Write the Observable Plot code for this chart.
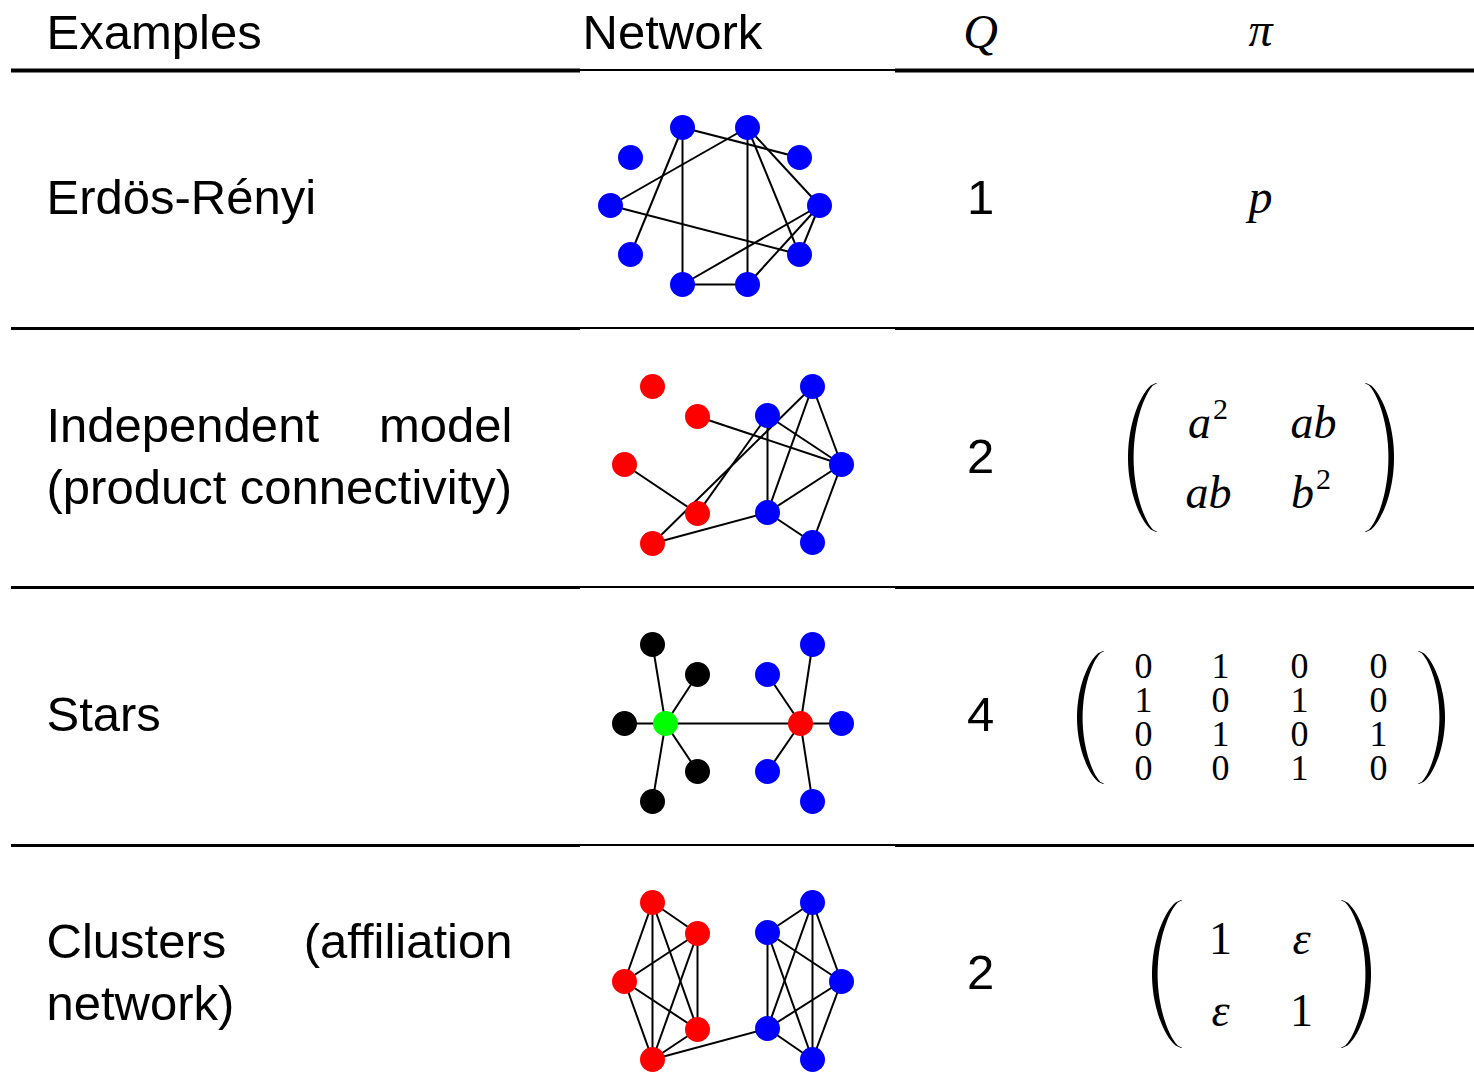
<!DOCTYPE html>
<html>
<head>
<meta charset="utf-8">
<script src="https://cdn.jsdelivr.net/npm/d3@7"></script>
<script src="https://cdn.jsdelivr.net/npm/@observablehq/plot@0.6"></script>
<style>
  html, body { margin: 0; padding: 0; background: #fff; }
  #chart svg { display: block; }
</style>
</head>
<body>
<div id="chart"></div>
<script>
// ---------- Data ----------
const headers = ["Examples", "Network", "Q", "π"];
const exampleLines = [
  ["Erdös-Rényi"],
  ["Independent|model", "(product connectivity)"],
  ["Stars"],
  ["Clusters|(affiliation", "network)"]
];
const qValues = ["1", "2", "4", "2"];
const piScalar = "p";
const piMatrix2 = [["a", "ab"], ["ab", "b"]];
const piMatrix2Sup = [["2", ""], ["", "2"]];
const piMatrix4 = [["0","1","0","0"], ["1","0","1","0"], ["0","1","0","1"], ["0","0","1","0"]];
const piMatrixEps = [["1", "ε"], ["ε", "1"]];

// Networks: node positions, colours, edges
const erNodes = [[682,127],[747,127],[630,157],[799,157],[610,205],[819,205],[630,254],[799,254],[682,284],[747,284]];
const erColors = ["blue","blue","blue","blue","blue","blue","blue","blue","blue","blue"];
const erEdges = [[0,3],[0,6],[0,8],[1,4],[1,9],[1,5],[1,7],[4,7],[5,8],[5,7],[5,9],[8,9]];

const indNodes = [[652,386],[697,416],[624,464],[697,513],[652,543],[812,386],[767,415],[841,464],[767,512],[812,542]];
const indColors = ["red","red","red","red","red","blue","blue","blue","blue","blue"];
const indEdges = [[1,7],[2,3],[4,5],[3,6],[4,8],[6,8],[6,7],[5,8],[5,7],[7,8],[7,9],[8,9]];

const starNodes = [[652,644],[697,674],[624,723],[665,723],[697,771],[652,801],[812,644],[767,674],[800,723],[841,723],[767,771],[812,801]];
const starColors = ["black","black","black","lime","black","black","blue","blue","red","blue","blue","blue"];
const starEdges = [[3,0],[3,1],[3,2],[3,4],[3,5],[3,8],[8,6],[8,7],[8,9],[8,10],[8,11]];

const clNodes = [[652,902],[697,933],[624,981],[697,1029],[652,1059],[812,902],[767,932],[841,981],[767,1028],[812,1059]];
const clColors = ["red","red","red","red","red","blue","blue","blue","blue","blue"];
const clEdges = [[0,1],[0,2],[0,3],[0,4],[1,2],[1,3],[1,4],[2,3],[2,4],[3,4],
                 [5,6],[5,7],[5,8],[5,9],[6,7],[6,8],[6,9],[7,8],[7,9],[8,9],[4,8]];

// ---------- Layout ----------
const W = 1474, H = 1073;
const colX = {examples: 46, examplesRight: 512, network: 582, q: 980, pi: 1260};
const headerY = 33;
const rowY = [198, 457, 715, 973];
const lineGap = 62;
const separatorsY = [70, 328, 587, 845];
const sans = "Liberation Sans, Arial, Helvetica, sans-serif";
const serif = "Liberation Serif, Times New Roman, serif";
const sansSize = 49;

// ---------- Build tables ----------
const colors = {blue: "#0000ff", red: "#ff0000", lime: "#00ff00", black: "#000000"};
const networks = [
  {nodes: erNodes, colors: erColors, edges: erEdges},
  {nodes: indNodes, colors: indColors, edges: indEdges},
  {nodes: starNodes, colors: starColors, edges: starEdges},
  {nodes: clNodes, colors: clColors, edges: clEdges}
];
const nodeData = [], edgeData = [];
networks.forEach((n) => {
  n.nodes.forEach(([x, y], i) => nodeData.push({x, y, c: colors[n.colors[i]]}));
  n.edges.forEach(([a, b]) => edgeData.push({x1: n.nodes[a][0], y1: n.nodes[a][1], x2: n.nodes[b][0], y2: n.nodes[b][1]}));
});

const segments = [];
separatorsY.forEach((y, i) => {
  const thick = i === 0 ? 4 : 3;
  segments.push({y, x1: 11, x2: 580, w: thick});
  segments.push({y: y - 0.5, x1: 580, x2: 895, w: 2});
  segments.push({y, x1: 895, x2: 1474, w: thick});
});

const sansTextLeft = [], sansTextRight = [];
sansTextLeft.push({x: colX.examples, y: headerY, t: headers[0]});
sansTextLeft.push({x: colX.network, y: headerY, t: headers[1]});
exampleLines.forEach((lines, r) => {
  const y0 = lines.length === 1 ? rowY[r] : rowY[r] - lineGap / 2;
  lines.forEach((ln, j) => {
    const y = y0 + j * lineGap;
    if (ln.includes("|")) {
      const [a, b] = ln.split("|");
      sansTextLeft.push({x: colX.examples, y, t: a});
      sansTextRight.push({x: colX.examplesRight, y, t: b});
    } else sansTextLeft.push({x: colX.examples, y, t: ln});
  });
});
const sansCenter = qValues.map((q, r) => ({x: colX.q, y: rowY[r], t: q}));

const italicText = [
  {x: colX.q, y: 32, t: headers[2], fs: 48},
  {x: colX.pi, y: 30, t: headers[3], fs: 48},
  {x: colX.pi, y: 197, t: piScalar, fs: 48}
];
// 2x2 matrix cells (base + superscript)
const m2cols = [1199, 1313], m2rows = [423, 493];
const supText = [];
piMatrix2.forEach((row, i) => row.forEach((v, j) => {
  const sup = piMatrix2Sup[i][j];
  const x = sup ? m2cols[j] + (j === 1 ? -11 : 0) : m2cols[j] + (j === 0 ? 9 : 0);
  italicText.push({x, y: m2rows[i], t: v, fs: 46});
  if (sup) supText.push({x: x + 21, y: m2rows[i] - 14, t: sup});
}));
const mEcols = [1220, 1301], mErows = [939, 1011];
const epsItalic = [], epsUpright = [];
piMatrixEps.forEach((row, i) => row.forEach((v, j) => {
  (v === "ε" ? epsItalic : epsUpright).push({x: mEcols[j], y: mErows[i], t: v});
}));
const m4cols = [1143, 1220, 1299, 1378], m4rows = [666, 700, 734, 768];
const m4cells = [];
piMatrix4.forEach((row, i) => row.forEach((v, j) => m4cells.push({x: m4cols[j], y: m4rows[i], t: v})));

// parentheses as tapered crescents
function paren(id, xEnd, xMid, yTop, yBot, thick) {
  const sign = Math.sign(xEnd - xMid), pts = [];
  for (let k = 0; k <= 60; k++) {
    const t = k / 60, u = 2 * t - 1;
    const s = Math.sqrt(Math.max(0, 1 - u * u));
    const xo = xEnd + (xMid - xEnd) * (1 - u * u) * 0.35 + (xMid - xEnd) * s * 0.65;
    pts.push({id, y: yTop + (yBot - yTop) * t, x1: xo, x2: xo + sign * (1.4 + thick * Math.pow(s, 1.2))});
  }
  return pts;
}
const parens = [
  ...paren("a", 1156, 1128, 383, 532, 4.2),
  ...paren("b", 1366, 1394, 383, 532, 4.2),
  ...paren("c", 1103, 1077, 651, 784, 4.2),
  ...paren("d", 1419, 1445, 651, 784, 4.2),
  ...paren("e", 1181, 1152, 900, 1048, 4.2),
  ...paren("f", 1342, 1371, 900, 1048, 4.2)
];

const chart = Plot.plot({
  width: W, height: H, margin: 0,
  x: {domain: [0, W], range: [0, W], axis: null},
  y: {domain: [0, H], range: [0, H], axis: null},
  color: {type: "identity"},
  style: {background: "#fff", fontFamily: sans},
  marks: [
    Plot.ruleY(segments, {y: "y", x1: "x1", x2: "x2", strokeWidth: "w", stroke: "black"}),
    Plot.link(edgeData, {x1: "x1", y1: "y1", x2: "x2", y2: "y2", stroke: "black", strokeWidth: 2}),
    Plot.dot(nodeData, {x: "x", y: "y", r: 12.5, fill: "c", stroke: null}),
    Plot.text(sansTextLeft, {x: "x", y: "y", text: "t", textAnchor: "start", fontSize: sansSize, fontFamily: sans, fill: "black"}),
    Plot.text(sansTextRight, {x: "x", y: "y", text: "t", textAnchor: "end", fontSize: sansSize, fontFamily: sans, fill: "black"}),
    Plot.text(sansCenter, {x: "x", y: "y", text: "t", textAnchor: "middle", fontSize: sansSize, fontFamily: sans, fill: "black"}),
    Plot.text(italicText, {x: "x", y: "y", text: "t", fontSize: "fs", textAnchor: "middle", fontFamily: serif, fontStyle: "italic", fill: "black"}),
    Plot.text(supText, {x: "x", y: "y", text: "t", fontSize: 30, textAnchor: "middle", fontFamily: serif, fill: "black"}),
    Plot.text(epsItalic, {x: "x", y: "y", text: "t", fontSize: 46, textAnchor: "middle", fontFamily: serif, fontStyle: "italic", fill: "black"}),
    Plot.text(epsUpright, {x: "x", y: "y", text: "t", fontSize: 46, textAnchor: "middle", fontFamily: serif, fill: "black"}),
    Plot.text(m4cells, {x: "x", y: "y", text: "t", fontSize: 36, textAnchor: "middle", fontFamily: serif, fill: "black"}),
    Plot.areaX(parens, {y: "y", x1: "x1", x2: "x2", z: "id", fill: "black", curve: "linear"})
  ]
});
document.getElementById("chart").appendChild(chart);
</script>
</body>
</html>
